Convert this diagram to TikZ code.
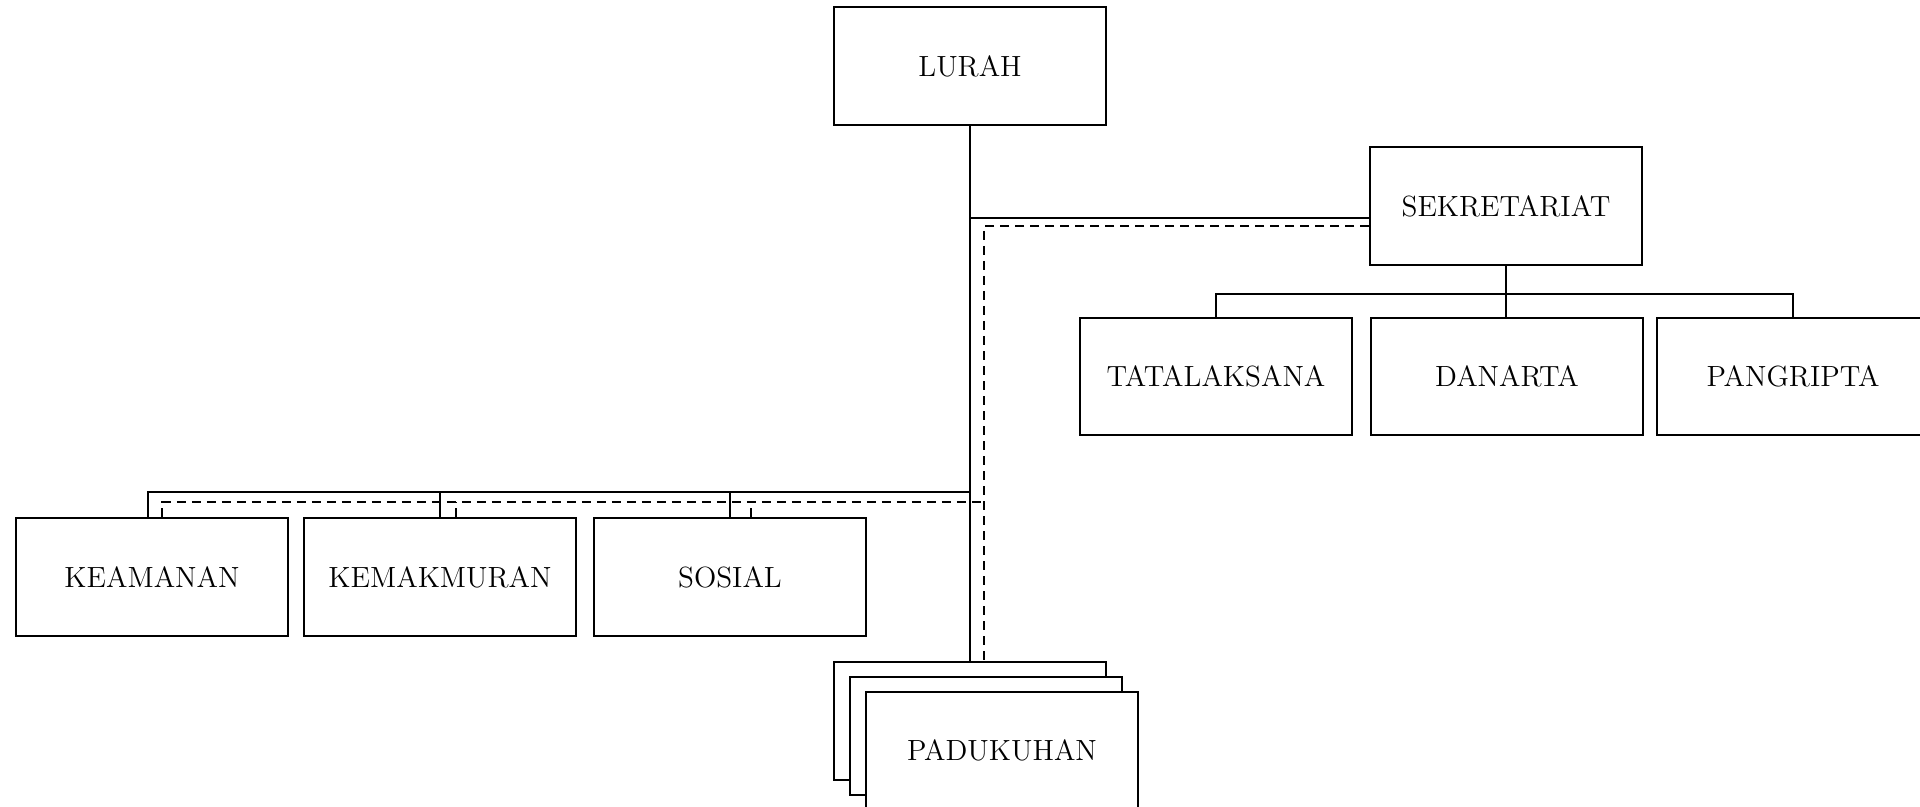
\documentclass[tikz,border=0pt]{standalone}
\usetikzlibrary{calc,positioning}

\begin{document}
\begin{tikzpicture}[
    x=0.5pt, y=-0.5pt,
    box/.style={rectangle,draw=black,fill=white,line width=1pt,
                minimum width=136pt,minimum height=58.75pt,inner sep=0},
    line/.style={draw=black,line width=0.9pt},
    dline/.style={draw=black,line width=0.9pt,dash pattern=on 4.5pt off 3pt}
]

    \tikzstyle{every node}=[font=\fontsize{14.6pt}{17pt}\selectfont];

    \clip (0,0) rectangle (1920,807);

    % kepala
    \node[box] (lurah) at (970,66) {LURAH};
    \node[box] (sekre) at (1506,206) {SEKRETARIAT};

    % bagian sekretariat
    \node[box] (tata)      at (1216,376.5) {TATALAKSANA};
    \node[box] (danarta)   at (1507,376.5) {DANARTA};
    \node[box] (pangripta) at (1793,376.5) {PANGRIPTA};

    % bagian lurah
    \node[box] (keamanan)   at (152,577) {KEAMANAN};
    \node[box] (kemakmuran) at (440,577) {KEMAKMURAN};
    \node[box] (sosial)     at (730,577) {SOSIAL};

    % padukuhan, bertumpuk
    \node[box] (pad3)      at (970,720.75) {};
    \node[box] (pad2)      at (986,735.75) {};
    \node[box] (padukuhan) at (1002,750.75) {PADUKUHAN};

    \coordinate (sbus) at (0,492);
    \coordinate (dbus) at (0,502);
    \coordinate (tbus) at (0,294);
    \coordinate (dv)   at (984,0);

    % garis komando
    \draw[line] (lurah.south) -- (lurah.south |- pad3.north);
    \draw[line] (lurah.south |- sekre.west) ++(0,12) -- ($(sekre.west)+(0,12)$);
    \draw[line] (sekre.south) -- (sekre.south |- danarta.north);
    \draw[line] (tata.north) -- (tata.north |- tbus) -- (pangripta.north |- tbus)
                -- (pangripta.north);
    \draw[line] ($(keamanan.north)+(-4,0)$) |- (lurah.south |- sbus);
    \draw[line] (kemakmuran.north) -- (kemakmuran.north |- sbus);
    \draw[line] (sosial.north) -- (sosial.north |- sbus);

    % garis koordinasi
    \draw[dline] ($(sekre.west)+(0,20)$) -| (dv |- pad3.north);
    \draw[dline] ($(keamanan.north)+(10,0)$) |- (dv |- dbus);
    \draw[dline] ($(kemakmuran.north)+(16,0)$) -- ($(kemakmuran.north |- dbus)+(16,0)$);
    \draw[dline] ($(sosial.north)+(21,0)$) -- ($(sosial.north |- dbus)+(21,0)$);

\end{tikzpicture}
\end{document}
